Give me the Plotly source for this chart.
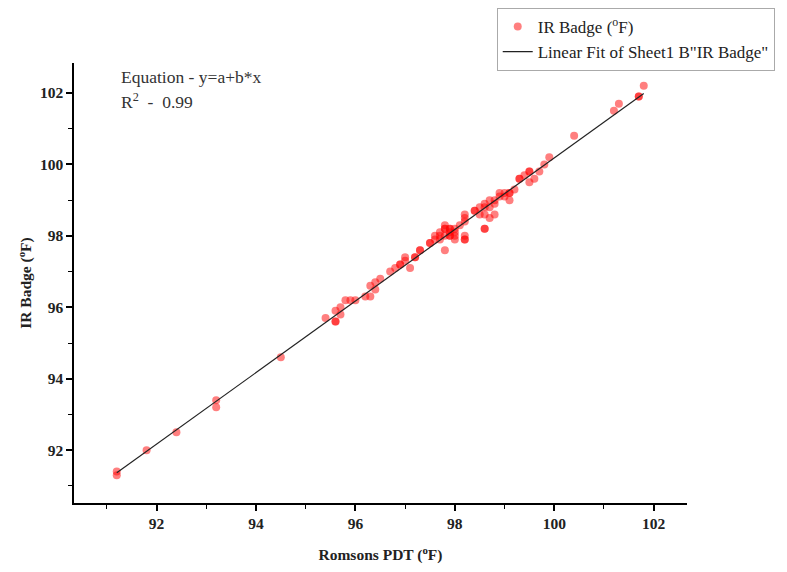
import numpy as np
import plotly.graph_objects as go

# Romsons PDT (x) vs IR Badge (y), degrees F
pdt = [91.2, 91.2, 91.8, 92.4, 93.2, 93.2, 94.5,
       95.4, 95.6, 95.6, 95.6, 95.7, 95.7, 95.8, 95.9, 96.0, 96.2, 96.3, 96.3, 96.4, 96.4, 96.5,
       96.7, 96.8, 96.9, 96.9, 97.0, 97.1, 97.2, 97.3, 97.5, 97.5, 97.6, 97.7,
       97.0, 97.2, 97.3, 97.6, 97.7, 97.8, 97.8, 97.8, 97.9, 97.9, 97.9, 98.0, 98.0, 98.2, 98.2,
       98.1, 98.2, 98.2, 98.4, 98.5, 98.6, 98.7, 98.6, 98.7, 98.8, 98.6, 98.6, 98.8, 98.9, 99.0,
       99.1, 99.1, 99.3, 99.3, 99.4, 99.5, 99.5, 99.6, 99.7, 99.8, 99.9, 100.4,
       97.7, 97.8, 97.9, 98.0, 97.8, 97.9, 98.0, 98.2, 98.2, 98.4, 98.6, 98.8, 98.9, 99.0, 99.1,
       99.2, 98.7, 98.5, 99.5,
       101.2, 101.3, 101.7, 101.7, 101.8]
irb = [91.4, 91.3, 92.0, 92.5, 93.4, 93.2, 94.6,
       95.7, 95.6, 95.6, 95.9, 95.8, 96.0, 96.2, 96.2, 96.2, 96.3, 96.3, 96.6, 96.5, 96.7, 96.8,
       97.0, 97.1, 97.2, 97.2, 97.3, 97.1, 97.4, 97.6, 97.8, 97.8, 97.9, 98.0,
       97.4, 97.4, 97.6, 98.0, 98.1, 98.2, 98.2, 97.6, 98.2, 98.0, 98.2, 97.9, 98.1, 97.9, 97.9,
       98.3, 98.5, 98.6, 98.7, 98.8, 98.9, 99.0, 98.6, 98.5, 98.6, 98.2, 98.2, 98.9, 99.2, 99.1,
       99.2, 99.0, 99.6, 99.6, 99.7, 99.8, 99.5, 99.6, 99.8, 100.0, 100.2, 100.8,
       97.9, 98.0, 98.1, 98.0, 98.3, 98.0, 98.2, 98.4, 98.0, 98.7, 98.8, 99.0, 99.1, 99.2, 99.2,
       99.3, 98.8, 98.6, 99.8,
       101.5, 101.7, 101.9, 101.9, 102.2]

x_ticks = [92, 94, 96, 98, 100, 102]
y_ticks = [92, 94, 96, 98, 100, 102]

xa = np.array(pdt)
ya = np.array(irb)
b, a = np.polyfit(xa, ya, 1)
fit_x = np.array([xa.min(), xa.max()])
fit_y = a + b * fit_x

serif = "Liberation Serif"

fig = go.Figure()
fig.add_trace(go.Scatter(
    x=pdt, y=irb, mode="markers", name="IR Badge (<sup>o</sup>F)",
    marker=dict(color="rgba(255,0,0,0.5)", size=8, line=dict(width=0)),
))
fig.add_trace(go.Scatter(
    x=fit_x, y=fit_y, mode="lines", name='Linear Fit of Sheet1 B"IR Badge"',
    line=dict(color="#222222", width=1.2),
))

axis_common = dict(
    showline=True, linecolor="black", linewidth=1.5, mirror=False,
    showgrid=False, zeroline=False, automargin=False,
    ticks="outside", ticklen=6, tickwidth=1.5, tickcolor="black",
    tickfont=dict(family=serif, size=15.5, color="#222", weight="bold"),
    minor=dict(ticks="outside", ticklen=4, tickwidth=1.2, tickcolor="black", dtick=1, showgrid=False),
)

fig.update_xaxes(
    range=[90.34, 102.67], tickvals=x_ticks, dtick=2, tick0=92,
    title=dict(text="Romsons PDT (<sup>o</sup>F)", font=dict(family=serif, size=15.5, color="#222", weight="bold"),
               standoff=18),
    **axis_common,
)
fig.update_yaxes(
    range=[90.52, 102.84], tickvals=y_ticks, dtick=2, tick0=92,
    title=dict(text="IR Badge (<sup>o</sup>F)", font=dict(family=serif, size=15.5, color="#222", weight="bold"),
               standoff=4),
    **axis_common,
)

fig.add_annotation(xref="paper", yref="paper", x=0.073, y=0.968, xanchor="left", yanchor="middle",
                   text="Equation - y=a+b*x", showarrow=False,
                   font=dict(family=serif, size=17.5, color="#333"))
fig.add_annotation(xref="paper", yref="paper", x=0.073, y=0.914, xanchor="left", yanchor="middle",
                   text="R<sup>2</sup>  -  0.99", showarrow=False,
                   font=dict(family=serif, size=17.5, color="#333"))

fig.update_layout(
    width=787, height=572,
    margin=dict(l=66, r=108, t=55, b=77, autoexpand=False),
    plot_bgcolor="white", paper_bgcolor="white",
    font=dict(family=serif, size=15, color="#222"),
    legend=dict(xref="container", yref="container", x=0.621, y=1.0, xanchor="left", yanchor="top",
                bordercolor="#aaa", borderwidth=1, bgcolor="white",
                font=dict(family=serif, size=17, color="#222"),
                tracegroupgap=0, itemwidth=30),
    showlegend=True,
)

fig.write_html("out.html")
